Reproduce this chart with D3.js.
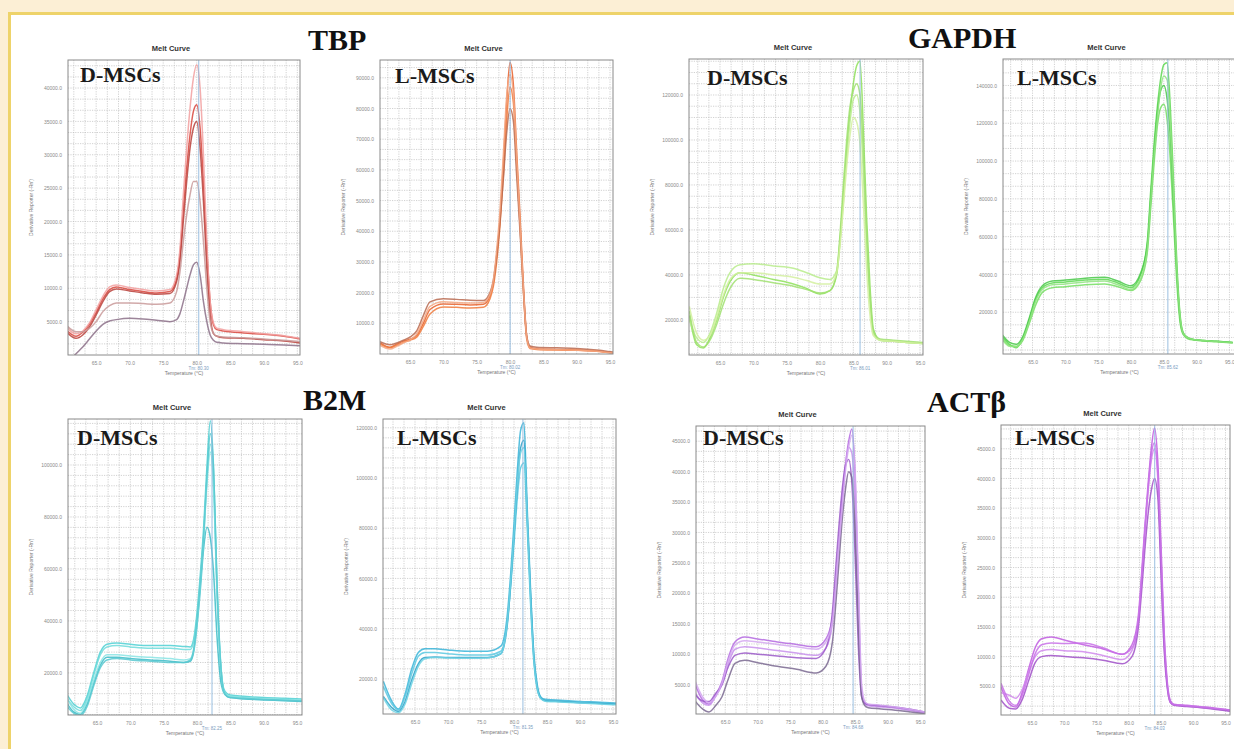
<!DOCTYPE html>
<html>
<head>
<meta charset="utf-8">
<script src="https://cdn.jsdelivr.net/npm/d3@7"></script>
<style>
  body { margin: 0; background: #fcefd5; }
  svg { display: block; }
</style>
</head>
<body>
<div id="chart"></div>
<script>
// gene names, cell types
const genes = ["TBP", "GAPDH", "B2M", "ACTβ"];
const cells = ["D-MSCs", "L-MSCs"];

// temperature grids (°C), one per gene
const tempTBP = [60.5, 62, 63, 64, 65, 66, 67, 68, 70, 72, 74, 76, 77, 77.5, 78, 78.5, 79, 79.5, 80, 80.5, 81, 81.5, 82, 82.5, 83, 84, 87, 90, 93, 95.5];
const tempGAPDH = [60.4, 61.5, 62.5, 63.5, 64.5, 65.5, 66.5, 68, 70, 73, 76, 78, 80, 81.5, 82.5, 83, 83.5, 84, 84.5, 85, 85.5, 86, 86.5, 87, 87.5, 88, 89, 91, 93, 95.5];
const tempB2M = [60.2, 61.5, 62.5, 63.5, 64.5, 65.5, 66.5, 68, 70, 73, 76, 78, 79, 79.5, 80, 80.5, 81, 81.5, 82, 82.5, 83, 83.5, 84, 84.5, 85, 87, 90, 93, 95.7];
const tempACTB = [60.2, 61.5, 62.5, 63.5, 64.5, 65.5, 66.5, 68, 70, 73, 76, 79, 80.5, 81.5, 82, 82.5, 83, 83.5, 84, 84.5, 85, 85.5, 86, 86.5, 87, 89, 92, 95.7];

// derivative reporter (-Rn'), in thousands, one array per well
const tbpD = [
  [3.8, 2.8, 3.4, 4.6, 6.4, 8.4, 9.8, 10.2, 9.8, 9.5, 9.3, 9.5, 11.5, 15, 22, 28, 33, 36.5, 37.5, 34, 26, 16, 8, 4.5, 3.8, 3.6, 3.3, 3.1, 2.8, 2.4],
  [4.2, 3.2, 3.6, 4.8, 6.8, 8.8, 10.2, 10.5, 10.1, 9.8, 9.6, 9.8, 12, 16, 24, 31, 37, 41.5, 43.5, 40, 30, 17, 8, 4.8, 4, 3.8, 3.5, 3.2, 2.9, 2.5],
  [3.5, 2.5, 3, 4.2, 6, 8, 9.5, 9.9, 9.6, 9.3, 9.1, 9.2, 11, 14, 20, 26, 31, 34, 35, 31, 23, 13, 6, 3.2, 2.8, 2.6, 2.5, 2.3, 2.1, 1.8],
  [4.5, 3.5, 3.5, 4, 5, 6.5, 7.4, 7.8, 7.8, 7.7, 7.6, 7.8, 9.5, 12.5, 17, 21, 24, 26, 26, 23, 17, 10, 5, 3.2, 2.8, 2.7, 2.6, 2.4, 2.2, 2],
  [-1.5, 0.2, 1.2, 2.4, 3.6, 4.6, 5.1, 5.3, 5.5, 5.4, 5.2, 5, 5.3, 6.2, 8, 10, 12, 13.5, 13.9, 12, 8, 5, 3, 2.2, 1.9, 1.8, 1.7, 1.6, 1.5, 1.4]
];
const tbpL = [
  [3.6, 2.2, 3.2, 4.2, 4.8, 6, 10, 14.5, 16.3, 16.2, 16, 16.2, 19, 23, 32, 44, 62, 82, 95, 88, 66, 45, 23, 6, 2.2, 1.7, 1.5, 1.3, 1, 0.4],
  [3.2, 2, 2.8, 3.8, 4.5, 5.5, 9, 13, 15.3, 15.2, 15, 15.2, 18, 22, 30, 42, 58, 76, 87, 82, 62, 42, 21, 5, 1.8, 1.5, 1.3, 1.2, 0.9, 0.3],
  [4, 3, 3.6, 4.5, 5.5, 7.5, 12.5, 17, 18, 17.8, 17.5, 17.4, 20, 24, 32, 43, 57, 72, 80, 76, 58, 40, 21, 6, 2.6, 2.2, 2, 1.8, 1.3, 0.6],
  [2.8, 1.6, 2.5, 3.6, 4.6, 6.5, 11, 15.5, 17, 16.8, 16.6, 16.8, 19.5, 24, 34, 47, 65, 84, 91, 85, 64, 43, 22, 5.5, 2, 1.6, 1.4, 1.2, 0.9, 0.3]
];
const gapdhD = [
  [22, 9, 7.5, 12, 20, 30, 37, 41, 40, 38, 36, 34, 31.5, 33, 40, 55, 75, 95, 112, 125, 133, 135, 105, 65, 35, 16, 11, 10.5, 10, 9.5],
  [20, 12, 10, 14, 23, 34, 41, 44.5, 45, 44, 43, 41, 38.7, 38, 42, 55, 72, 92, 108, 118, 120, 112, 85, 52, 28, 14, 11, 10.5, 10, 9.5],
  [24, 10, 8, 11, 18, 27, 34, 38.5, 38, 36.5, 35, 33.5, 32, 33, 41, 58, 80, 100, 115, 122, 125, 120, 95, 58, 30, 15, 11.5, 11, 10.5, 10],
  [26, 14, 11, 13, 21, 31, 38, 41, 41, 40, 39, 37.5, 36, 36, 41, 53, 70, 88, 102, 110, 108, 98, 72, 42, 22, 13, 11, 10.5, 10, 9.5]
];
const gapdhL = [
  [7, 3, 1.2, 6, 16, 27, 33, 35.5, 36, 37, 37.5, 35.5, 33, 40, 58, 84, 108, 128, 143, 151, 152, 128, 88, 45, 18, 9, 6, 5, 4.6, 4],
  [6, 2.5, 2, 5, 14, 24, 30.5, 33, 33.5, 34.5, 35, 33.5, 31.5, 37, 52, 75, 98, 118, 128, 130, 122, 100, 68, 35, 14, 8, 5.5, 4.8, 4.4, 3.8],
  [8, 4, 3, 7, 17, 28, 34, 36.5, 37, 38, 38.5, 36.5, 34, 41, 56, 80, 104, 125, 137, 140, 133, 112, 76, 40, 16, 8.5, 6, 5, 4.6, 4],
  [5.5, 2, 1.8, 5.5, 15, 26, 32, 34.5, 35, 36, 36.5, 34.5, 32, 38, 54, 78, 102, 122, 138, 145, 143, 120, 82, 42, 17, 8.5, 6, 5, 4.5, 3.9]
];
const b2mD = [
  [13, 8, 6.5, 11, 20, 28, 31, 31.5, 31, 30.5, 30.5, 30.2, 30, 33, 43, 58, 76, 100, 117, 98, 55, 26, 14, 12, 11.5, 11, 10.5, 10.2, 10],
  [11, 7, 5.5, 10, 19, 27, 30, 30.5, 30, 29.5, 29.5, 29, 29, 32, 41, 55, 72, 95, 108, 92, 52, 25, 13.5, 11.5, 11, 10.5, 10, 9.8, 9.5],
  [9.6, 5, 4, 8, 16, 23, 26, 26, 25.5, 25, 24.5, 24, 24.5, 28, 38, 52, 68, 76, 72, 58, 34, 18, 12.5, 11, 10.5, 10, 9.6, 9.3, 9],
  [12, 6, 4.5, 9, 17, 24, 27, 27, 26.5, 26, 25.5, 25, 25.5, 29, 39, 54, 72, 93, 105, 90, 50, 24, 13, 11.5, 11, 10.5, 10, 9.8, 9.5],
  [8, 4.5, 3.5, 7, 15, 22, 25, 25.5, 25, 24.5, 24, 24, 25, 29, 40, 55, 73, 96, 112, 97, 54, 25, 13, 11, 10.5, 10.2, 9.8, 9.5, 9.2]
];
const b2mL = [
  [19, 11, 8, 14, 24, 30.5, 32, 32, 31.5, 31, 31, 33, 46, 62, 82, 103, 119, 122, 88, 56, 30, 18, 13, 12, 11.8, 11.5, 11, 10.7, 10.3],
  [17, 10, 7.6, 13, 22, 29, 30.5, 30.5, 30, 29.5, 29.5, 31, 43, 57, 74, 92, 104, 106, 80, 50, 27, 16, 12.5, 11.5, 11.3, 11, 10.6, 10.3, 10],
  [13, 8.5, 7, 11, 19.5, 26, 28.5, 28.7, 28.5, 28.5, 28.5, 30, 42, 58, 77, 97, 112, 115, 85, 54, 29, 17, 12.5, 11.5, 11.2, 11, 10.5, 10.2, 9.8],
  [12.5, 7.5, 6.5, 10, 18, 25, 28, 28.5, 28.3, 28.2, 28.3, 30, 43, 59, 78, 98, 110, 112, 84, 52, 28, 16.5, 12.3, 11.3, 11, 10.8, 10.4, 10, 9.6]
];
const actbD = [
  [5.5, 2.5, 1.8, 3.2, 5.5, 9.5, 12, 12.8, 12.5, 12, 11.6, 11.2, 12.5, 16, 21, 28, 35, 41, 45, 47, 39, 20, 4, 2, 1.7, 1.5, 1.1, 0.4],
  [4, 2, 1.6, 3, 5, 8.5, 10.8, 11.2, 11, 10.6, 10.2, 9.8, 11, 15, 21, 28, 35, 41, 44, 43, 34, 16, 3.5, 1.8, 1.5, 1.3, 1, 0.3],
  [3.6, 2.3, 2.2, 3.5, 5, 8, 9.8, 10.2, 10, 9.7, 9.4, 9.3, 11, 17, 24, 31, 37, 41, 42, 38, 26, 11, 3, 1.9, 1.7, 1.5, 1.2, 0.5],
  [2.5, 1, 0.5, 1.5, 3, 6, 8.5, 9, 8.6, 8, 7.5, 6.9, 8, 12, 18, 25, 32, 37, 40, 39, 30, 14, 3, 1.5, 1.2, 1, 0.7, 0.2],
  [6, 3, 2, 3, 5.2, 9, 11.5, 12.2, 12, 11.6, 11.2, 10.8, 12, 15.5, 21, 28, 34, 40, 44, 46, 40, 22, 5, 2.2, 1.8, 1.6, 1.2, 0.5]
];
const actbL = [
  [4.9, 2, 1.5, 4, 8, 11.5, 13, 13.3, 12.8, 12, 11.3, 10.4, 12, 17, 24, 32, 39, 45, 48.5, 43, 29, 14, 5.5, 2.5, 2, 1.8, 1.5, 1],
  [3.9, 3.5, 3, 4.5, 7.5, 10, 11, 11.2, 11, 10.8, 10.2, 9.5, 11, 16, 23, 31, 38, 43, 45, 40, 26, 12, 5, 2.3, 1.9, 1.7, 1.4, 0.9],
  [2.7, 1.3, 1.2, 2.8, 6, 9, 10, 10.2, 10, 9.8, 9.4, 8.8, 10, 15, 21, 28, 34, 38, 40, 37, 24, 11, 4.5, 2.2, 1.8, 1.6, 1.3, 0.8],
  [5.5, 2.5, 1.8, 3.5, 7, 10.5, 12, 12.3, 12.2, 12.3, 11.5, 10.4, 11.5, 16, 23, 31, 38, 44, 46, 41, 27, 13, 5, 2.2, 1.9, 1.7, 1.4, 1]
];

// melting temperatures shown under each plot
const tmValues = [80.30, 80.02, 86.01, 85.62, 82.25, 81.35, 84.68, 84.03];

// axis ranges and tick values (thousands)
const xTicks = [65, 70, 75, 80, 85, 90, 95];
const xDomains = [[60.8, 95.4], [60.5, 95.45], [60.35, 95.45], [60.5, 96], [60.65, 95.75], [60.15, 95.45], [60.5, 95.75], [60.2, 95.7]];
const yDomains = [[0, 44.2], [0, 95.8], [4.4, 136], [-2.1, 154], [3.8, 117.7], [6, 123.5], [0.16, 47.5], [0.17, 49]];
const yTicks = [
  [5, 10, 15, 20, 25, 30, 35, 40],
  [10, 20, 30, 40, 50, 60, 70, 80, 90],
  [20, 40, 60, 80, 100, 120],
  [20, 40, 60, 80, 100, 120, 140],
  [20, 40, 60, 80, 100],
  [20, 40, 60, 80, 100, 120],
  [5, 10, 15, 20, 25, 30, 35, 40, 45],
  [5, 10, 15, 20, 25, 30, 35, 40, 45]
];

const panels = [
  {gene: 0, cell: 0, temps: tempTBP, series: tbpD},
  {gene: 0, cell: 1, temps: tempTBP, series: tbpL},
  {gene: 1, cell: 0, temps: tempGAPDH, series: gapdhD},
  {gene: 1, cell: 1, temps: tempGAPDH, series: gapdhL},
  {gene: 2, cell: 0, temps: tempB2M, series: b2mD},
  {gene: 2, cell: 1, temps: tempB2M, series: b2mL},
  {gene: 3, cell: 0, temps: tempACTB, series: actbD},
  {gene: 3, cell: 1, temps: tempACTB, series: actbL}
];

// plot boxes and label offsets
const layout = [
  {x0: 68, x1: 300, y0: 60, y1: 355, lx: 12, ly: 22},
  {x0: 380, x1: 613, y0: 60, y1: 354, lx: 15, ly: 23},
  {x0: 689, x1: 923, y0: 59, y1: 355, lx: 18, ly: 26},
  {x0: 1003, x1: 1236, y0: 59, y1: 354, lx: 14, ly: 26},
  {x0: 68, x1: 302, y0: 419, y1: 715, lx: 9, ly: 26},
  {x0: 383, x1: 616, y0: 419, y1: 714, lx: 14, ly: 26},
  {x0: 696, x1: 925, y0: 426, y1: 714, lx: 7, ly: 19},
  {x0: 1001, x1: 1230, y0: 425, y1: 715, lx: 14, ly: 20}
];
const geneTitles = [
  {x: 308, y: 50}, {x: 908, y: 48}, {x: 303, y: 410}, {x: 927, y: 412}
];
const palettes = [
  ["#d9453c", "#f2a0a0", "#b8403a", "#c99a9a", "#8c7088"],
  ["#e8602a", "#f07a3c", "#b86a50", "#f4a884"],
  ["#8ee05a", "#b8ec8c", "#a0e070", "#d4f0a0"],
  ["#5cd850", "#74de62", "#48c848", "#90e480"],
  ["#4fd0d4", "#70dcdc", "#3cbcc8", "#8ae4e4", "#58c8d0"],
  ["#38b4d8", "#5ac8e0", "#2aa0c8", "#70d4e4"],
  ["#b468e0", "#c890ec", "#9a58c8", "#7a6890", "#d4a8f0"],
  ["#c05ae0", "#d088ec", "#a050c8", "#c870e8"]
];

const width = 1234;
const height = 749;
const fmt = d3.format(".1f");

const svg = d3.select("#chart").append("svg")
  .attr("width", width)
  .attr("height", height);

svg.append("rect").attr("width", width).attr("height", height).attr("fill", "#fcefd5");
svg.append("rect")
  .attr("x", 9.5).attr("y", 13.5)
  .attr("width", 1300).attr("height", 800)
  .attr("fill", "#fff")
  .attr("stroke", "#eed36a")
  .attr("stroke-width", 3);

panels.forEach((p, i) => {
  const box = layout[i];
  const x = d3.scaleLinear().domain(xDomains[i]).range([box.x0, box.x1]);
  const y = d3.scaleLinear().domain(yDomains[i]).range([box.y1, box.y0]);
  const g = svg.append("g");

  const clipId = "clip" + i;
  svg.append("clipPath").attr("id", clipId)
    .append("rect")
    .attr("x", box.x0).attr("y", box.y0)
    .attr("width", box.x1 - box.x0).attr("height", box.y1 - box.y0);

  // dotted grid, about 11px cells
  const step = yTicks[i][1] - yTicks[i][0];
  const sub = Math.max(1, Math.round((y(0) - y(step)) / 11));
  const yGrid = d3.range(0, yDomains[i][1], step / sub).filter(v => v > yDomains[i][0]);
  const xGrid = d3.range(60, 96, 5 / 3).filter(v => v > xDomains[i][0] && v < xDomains[i][1]);
  const grid = g.append("g").attr("stroke", "#bdbdbd").attr("stroke-width", 0.7).attr("stroke-dasharray", "1.2,1.2");
  grid.selectAll(".gx").data(xGrid).join("line")
    .attr("x1", d => x(d)).attr("x2", d => x(d))
    .attr("y1", box.y0).attr("y2", box.y1);
  grid.selectAll(".gy").data(yGrid).join("line")
    .attr("x1", box.x0).attr("x2", box.x1)
    .attr("y1", d => y(d)).attr("y2", d => y(d));

  // melt curves
  const line = d3.line()
    .x((d, j) => x(p.temps[j]))
    .y(d => y(d))
    .curve(d3.curveMonotoneX);
  g.append("g").attr("clip-path", `url(#${clipId})`)
    .selectAll("path")
    .data(p.series)
    .join("path")
    .attr("d", line)
    .attr("fill", "none")
    .attr("stroke", (d, k) => palettes[i][k])
    .attr("stroke-width", 1.5)
    .attr("stroke-opacity", 0.85);

  // Tm marker
  g.append("line")
    .attr("x1", x(tmValues[i])).attr("x2", x(tmValues[i]))
    .attr("y1", box.y0).attr("y2", box.y1)
    .attr("stroke", "#8fb8dc").attr("stroke-width", 0.9);

  g.append("rect")
    .attr("x", box.x0).attr("y", box.y0)
    .attr("width", box.x1 - box.x0).attr("height", box.y1 - box.y0)
    .attr("fill", "none").attr("stroke", "#8a8a8a").attr("stroke-width", 1);

  // axes
  const xAxis = g.append("g")
    .attr("transform", `translate(0,${box.y1})`)
    .call(d3.axisBottom(x).tickValues(xTicks).tickFormat(fmt).tickSize(0).tickPadding(6));
  const yAxis = g.append("g")
    .attr("transform", `translate(${box.x0},0)`)
    .call(d3.axisLeft(y).tickValues(yTicks[i]).tickFormat(v => fmt(v * 1000)).tickSize(0).tickPadding(6));
  [xAxis, yAxis].forEach(a => {
    a.select(".domain").remove();
    a.selectAll("text")
      .attr("fill", "#8a8a8a")
      .style("font-family", "Liberation Sans, Arial, sans-serif")
      .style("font-size", "5px");
  });

  const cx = (box.x0 + box.x1) / 2;
  g.append("text")
    .attr("x", x(tmValues[i])).attr("y", box.y1 + 15)
    .attr("text-anchor", "middle")
    .attr("fill", "#7a9cc0")
    .style("font-family", "Liberation Sans, Arial, sans-serif")
    .style("font-size", "4.5px")
    .text("Tm: " + tmValues[i].toFixed(2));
  g.append("text")
    .attr("x", cx).attr("y", box.y1 + 20)
    .attr("text-anchor", "middle")
    .attr("fill", "#777")
    .style("font-family", "Liberation Sans, Arial, sans-serif")
    .style("font-size", "5px")
    .text("Temperature (°C)");
  g.append("text")
    .attr("transform", `translate(${box.x0 - 35},${(box.y0 + box.y1) / 2}) rotate(-90)`)
    .attr("text-anchor", "middle")
    .attr("fill", "#777")
    .style("font-family", "Liberation Sans, Arial, sans-serif")
    .style("font-size", "5px")
    .text("Derivative Reporter (-Rn')");
  g.append("text")
    .attr("x", cx - 13).attr("y", box.y0 - 9)
    .attr("text-anchor", "middle")
    .attr("fill", "#333")
    .style("font-family", "Liberation Sans, Arial, sans-serif")
    .style("font-size", "7.5px")
    .style("font-weight", "bold")
    .text("Melt Curve");

  g.append("text")
    .attr("x", box.x0 + box.lx).attr("y", box.y0 + box.ly)
    .attr("fill", "#1a1a1a")
    .style("font-family", "Liberation Serif, Times New Roman, serif")
    .style("font-size", "22px")
    .style("font-weight", "bold")
    .text(cells[p.cell]);
});

svg.selectAll(".gene")
  .data(genes)
  .join("text")
  .attr("x", (d, i) => geneTitles[i].x)
  .attr("y", (d, i) => geneTitles[i].y)
  .attr("fill", "#111")
  .style("font-family", "Liberation Serif, Times New Roman, serif")
  .style("font-size", "30px")
  .style("font-weight", "bold")
  .text(d => d);
</script>
</body>
</html>
